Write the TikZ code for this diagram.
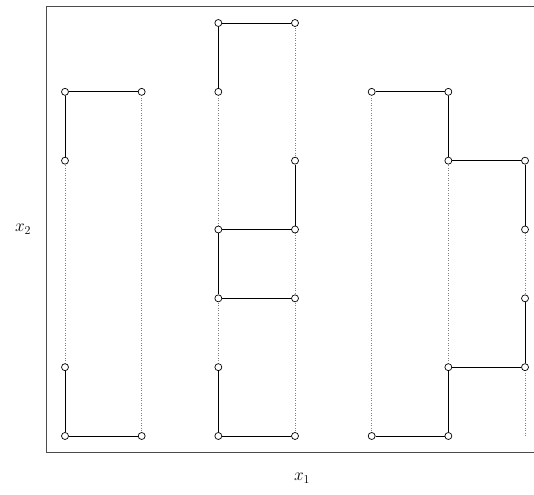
\documentclass[tikz,border=0pt]{standalone}
\begin{document}
\begin{tikzpicture}[x=1pt,y=1pt,
  pt/.style={circle,draw=black,fill=white,line width=0.7pt,inner sep=0pt,minimum size=7pt},
  guide/.style={gray,dotted,line width=0.5pt},
  seg/.style={black,line width=0.8pt},
  frame/.style={black!70,line width=1pt},
  lab/.style={font=\fontsize{16.5}{19}\selectfont,anchor=base}]
\useasboundingbox (0,0) rectangle (534,494);
\clip (0,0) rectangle (534,494);
% grid coordinates
\foreach \i in {0,...,6}{
  \foreach \j in {0,...,6}{
    \coordinate (c-\i-\j) at ({65+76.67*\i},{58+68.83*\j});
  }
}
% frame
\coordinate (fl) at (46,41);
\coordinate (ft) at (46,487);
\coordinate (fbr) at (540,41);
\coordinate (ftr) at (540,487);
\draw[frame] (ftr) -- (ft) -- (fl) -- (fbr);
% guides
\draw[guide] (c-0-0) -- (c-0-5);
\draw[guide] (c-1-0) -- (c-1-5);
\draw[guide] (c-2-0) -- (c-2-6);
\draw[guide] (c-3-0) -- (c-3-6);
\draw[guide] (c-4-0) -- (c-4-5);
\draw[guide] (c-5-0) -- (c-5-5);
\draw[guide] (c-6-0) -- (c-6-4);
% points
\foreach \i/\j in {0/0,1/0,0/1,0/4,0/5,1/5,
  2/0,3/0,2/1,2/2,3/2,2/3,3/3,3/4,2/5,2/6,3/6,
  4/0,5/0,5/1,6/1,6/2,6/3,5/4,6/4,4/5,5/5}{
  \node[pt] (p-\i-\j) at (c-\i-\j) {};
}
% segments
\draw[seg] (p-0-0) -- (p-1-0);
\draw[seg] (p-0-0) -- (p-0-1);
\draw[seg] (p-0-4) -- (p-0-5);
\draw[seg] (p-0-5) -- (p-1-5);
\draw[seg] (p-2-0) -- (p-3-0);
\draw[seg] (p-2-0) -- (p-2-1);
\draw[seg] (p-2-2) -- (p-3-2);
\draw[seg] (p-2-2) -- (p-2-3);
\draw[seg] (p-2-3) -- (p-3-3);
\draw[seg] (p-3-3) -- (p-3-4);
\draw[seg] (p-2-5) -- (p-2-6);
\draw[seg] (p-2-6) -- (p-3-6);
\draw[seg] (p-4-0) -- (p-5-0);
\draw[seg] (p-5-0) -- (p-5-1);
\draw[seg] (p-5-1) -- (p-6-1);
\draw[seg] (p-6-1) -- (p-6-2);
\draw[seg] (p-6-3) -- (p-6-4);
\draw[seg] (p-5-4) -- (p-6-4);
\draw[seg] (p-5-4) -- (p-5-5);
\draw[seg] (p-4-5) -- (p-5-5);
% labels
\node[lab] (lx2) at (23,262) {$x_2$};
\node[lab] (lx1) at (302,13) {$x_1$};
\end{tikzpicture}
\end{document}
